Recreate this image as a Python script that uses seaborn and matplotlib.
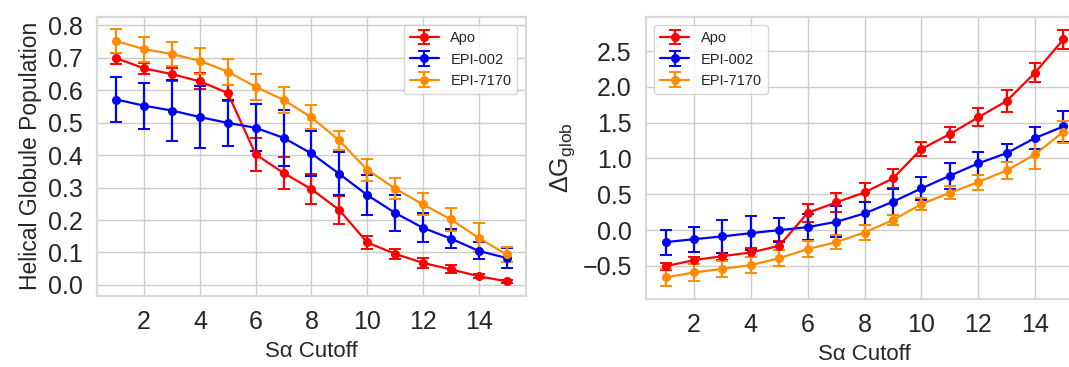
import numpy as np
import pandas as pd
import matplotlib
matplotlib.use("Agg")
import matplotlib.pyplot as plt
import seaborn as sns

# ---- data ----
cutoff = [1, 2, 3, 4, 5, 6, 7, 8, 9, 10, 11, 12, 13, 14, 15]
series_names = ["Apo", "EPI-002", "EPI-7170"]
series_colors = ["#ff0000", "#0000ff", "#ff8c00"]

pop_apo = [0.698, 0.667, 0.649, 0.627, 0.591, 0.402, 0.345, 0.295, 0.231, 0.131, 0.096, 0.068, 0.048, 0.027, 0.011]
pop_apo_err = [0.017, 0.018, 0.020, 0.025, 0.025, 0.052, 0.048, 0.047, 0.043, 0.019, 0.016, 0.015, 0.012, 0.007, 0.005]
pop_002 = [0.571, 0.552, 0.537, 0.517, 0.499, 0.484, 0.453, 0.405, 0.342, 0.277, 0.222, 0.176, 0.143, 0.105, 0.083]
pop_002_err = [0.069, 0.071, 0.095, 0.096, 0.072, 0.072, 0.087, 0.069, 0.066, 0.061, 0.056, 0.045, 0.029, 0.026, 0.032]
pop_7170 = [0.751, 0.726, 0.711, 0.690, 0.657, 0.610, 0.570, 0.516, 0.445, 0.355, 0.297, 0.248, 0.202, 0.145, 0.094]
pop_7170_err = [0.036, 0.038, 0.037, 0.039, 0.040, 0.041, 0.041, 0.037, 0.028, 0.034, 0.033, 0.034, 0.035, 0.045, 0.023]

dg_apo = [-0.503, -0.419, -0.363, -0.312, -0.219, 0.242, 0.386, 0.526, 0.722, 1.131, 1.341, 1.574, 1.802, 2.197, 2.663]
dg_apo_err = [0.05, 0.05, 0.05, 0.06, 0.065, 0.123, 0.128, 0.128, 0.135, 0.098, 0.105, 0.126, 0.154, 0.130, 0.137]
dg_002 = [-0.168, -0.126, -0.088, -0.042, 0.0, 0.042, 0.116, 0.233, 0.396, 0.582, 0.759, 0.931, 1.075, 1.285, 1.448]
dg_002_err = [0.175, 0.175, 0.235, 0.233, 0.172, 0.186, 0.214, 0.163, 0.179, 0.163, 0.179, 0.163, 0.128, 0.149, 0.214]
dg_7170 = [-0.661, -0.591, -0.540, -0.489, -0.391, -0.265, -0.168, -0.033, 0.140, 0.363, 0.521, 0.670, 0.833, 1.057, 1.373]
dg_7170_err = [0.121, 0.116, 0.112, 0.116, 0.112, 0.112, 0.100, 0.100, 0.065, 0.081, 0.093, 0.105, 0.116, 0.198, 0.151]

xlabel = "S\u03b1 Cutoff"
ylabel_left = "Helical Globule Population"
ylabel_right = r"$\Delta\mathrm{G}_{\mathrm{glob}}$"

# ---- style ----
sns.set_theme(style="whitegrid")
plt.rcParams["font.family"] = ["Liberation Sans", "DejaVu Sans"]
plt.rcParams["mathtext.fontset"] = "custom"
plt.rcParams["mathtext.rm"] = "Liberation Sans"
plt.rcParams["mathtext.it"] = "Liberation Sans:italic"

fig = plt.figure(figsize=(10.69, 3.67), dpi=100)
ax1 = fig.add_axes([0.0905, 0.1943, 0.4016, 0.7602])
ax2 = fig.add_axes([0.6040, 0.1853, 0.4094, 0.7692])

left_vals = [(pop_apo, pop_apo_err), (pop_002, pop_002_err), (pop_7170, pop_7170_err)]
right_vals = [(dg_apo, dg_apo_err), (dg_002, dg_002_err), (dg_7170, dg_7170_err)]

for ax, vals in [(ax1, left_vals), (ax2, right_vals)]:
    for name, color, (v, e) in zip(series_names, series_colors, vals):
        df = pd.DataFrame({"x": cutoff, "y": v, "e": e})
        ax.errorbar(df["x"], df["y"], yerr=df["e"], color=color, marker="o",
                    markersize=5.5, linewidth=1.6, elinewidth=1.6, capsize=4.5,
                    capthick=1.4, label=name)
    ax.set_xticks([2, 4, 6, 8, 10, 12, 14])
    ax.tick_params(axis="both", labelsize=18, pad=4)
    for sp in ax.spines.values():
        sp.set_color("#d9d9d9")
        sp.set_linewidth(1.6)

ax1.set_yticks([0.0, 0.1, 0.2, 0.3, 0.4, 0.5, 0.6, 0.7, 0.8])
ax2.set_yticks([-0.5, 0.0, 0.5, 1.0, 1.5, 2.0, 2.5])

ax1.set_xlabel(xlabel, fontsize=16, labelpad=5)
ax1.set_ylabel(ylabel_left, fontsize=16.5, labelpad=4)
ax2.set_xlabel(xlabel, fontsize=16, labelpad=5)
ax2.set_ylabel(ylabel_right, fontsize=18, labelpad=4)

ax1.legend(loc="upper right", fontsize=10.5, frameon=True, borderaxespad=0.6)
ax2.legend(loc="upper left", fontsize=10.5, frameon=True, borderaxespad=0.6)

fig.savefig("out.png", dpi=100)
